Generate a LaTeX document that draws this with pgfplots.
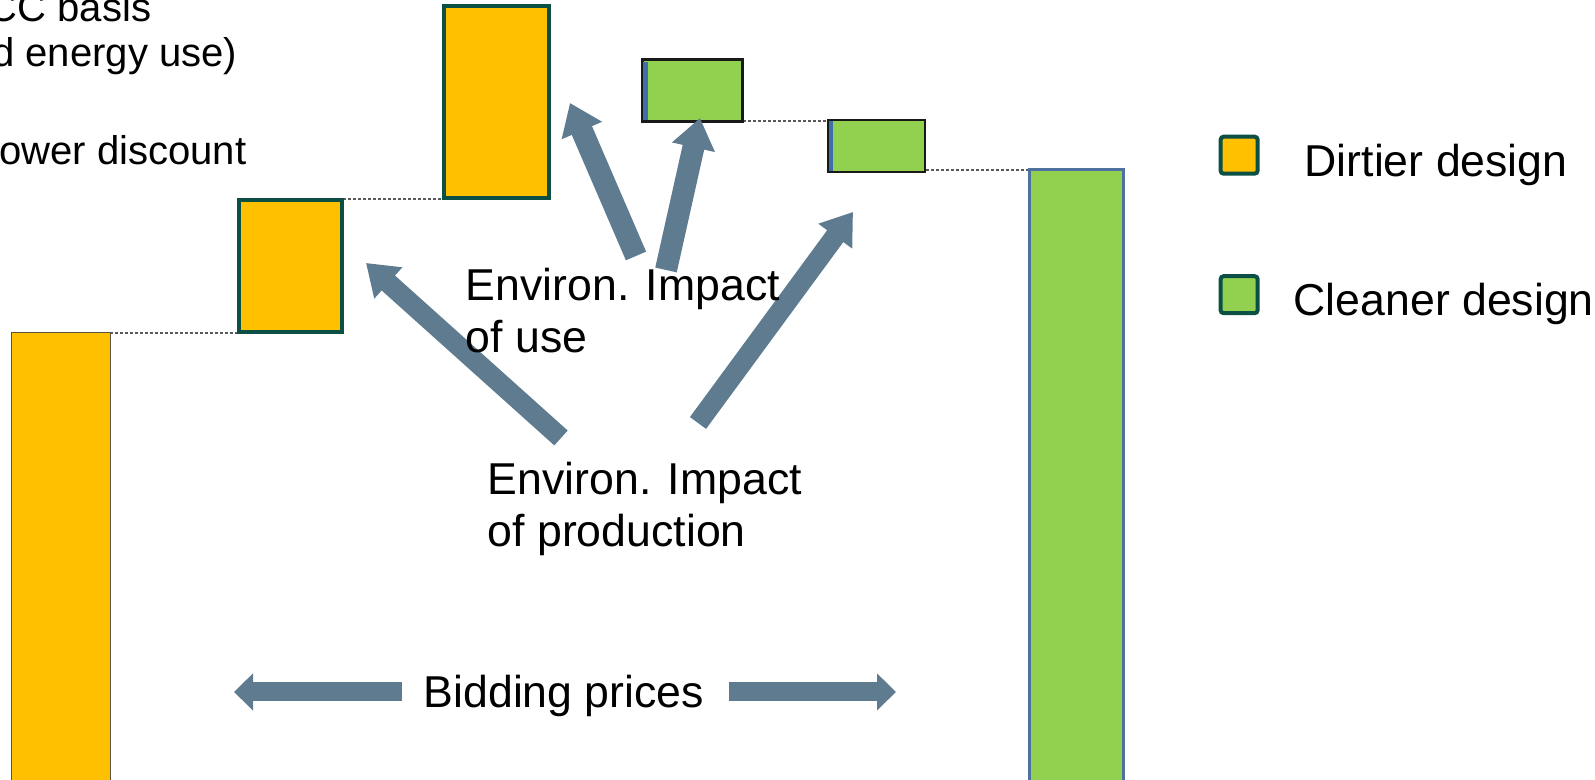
\documentclass[border=0pt]{standalone}
\usepackage{fontspec}
\setmainfont{Liberation Sans}
\usepackage{pgfplots}
\pgfplotsset{compat=1.18}
\usetikzlibrary{arrows.meta}

\definecolor{dirtyfill}{HTML}{FFC000}
\definecolor{cleanfill}{HTML}{92D050}
\definecolor{dgreen}{HTML}{0C4F45}
\definecolor{steel}{HTML}{4E72A0}
\definecolor{stripblue}{HTML}{3F6FA8}
\definecolor{arrowc}{HTML}{5E7B8F}

\newcommand{\bigfont}{\fontsize{12.7}{15}\selectfont}
\newcommand{\smallfont}{\fontsize{11.4}{13.5}\selectfont}

\begin{document}
\begin{tikzpicture}
\begin{axis}[
    scale only axis,
    width=159.5mm, height=78mm,
    xmin=0, xmax=1595, ymin=0, ymax=780,
    hide axis,
    clip=true,
    legend image code/.code={\draw[#1] (0mm,0.2mm) rectangle (3.7mm,3.9mm);},
    legend cell align=left,
    legend style={at={(0.7636,0.8282)}, anchor=north west, draw=none, fill=none,
        inner sep=0pt, row sep=7.4mm, column sep=3.4mm,
        nodes={inner sep=0pt, text height=3.9mm, text depth=1mm, font=\bigfont}},
]
% legend
\addlegendimage{fill=dirtyfill, draw=dgreen, line width=0.4mm, rounded corners=0.3mm}
\addlegendentry{\raisebox{1.4mm}{\hspace*{1.1mm}Dirtier design}}
\addlegendimage{fill=cleanfill, draw=dgreen, line width=0.4mm, rounded corners=0.3mm}
\addlegendentry{\raisebox{1.4mm}{Cleaner design}}

% connectors
\addplot[forget plot, gray!70!black, line width=0.12mm, dash pattern=on 0.3mm off 0.2mm] coordinates {(110,447) (238,447)};
\addplot[forget plot, gray!70!black, line width=0.12mm, dash pattern=on 0.3mm off 0.2mm] coordinates {(343,581) (443,581)};
\addplot[forget plot, gray!70!black, line width=0.12mm, dash pattern=on 0.3mm off 0.2mm] coordinates {(743,659) (827,659)};
\addplot[forget plot, gray!70!black, line width=0.12mm, dash pattern=on 0.3mm off 0.2mm] coordinates {(926,610) (1028,610)};

% bars (dirtier)
\addplot[forget plot, fill=dirtyfill, draw=black!75!yellow, line width=0.1mm] coordinates {(12,-10) (110,-10) (110,447) (12,447)} --cycle;
\addplot[forget plot, fill=dirtyfill, draw=dgreen, line width=0.4mm] coordinates {(239,448) (342,448) (342,580) (239,580)} --cycle;
\addplot[forget plot, fill=dirtyfill, draw=dgreen, line width=0.4mm] coordinates {(444,582) (549,582) (549,774) (444,774)} --cycle;

% bars (cleaner)
\addplot[forget plot, fill=cleanfill, draw=black!90, line width=0.3mm] coordinates {(642,658) (742,658) (742,720) (642,720)} --cycle;
\addplot[forget plot, fill=stripblue, draw=none] coordinates {(643,660) (648,660) (648,718) (643,718)} --cycle;
\addplot[forget plot, fill=cleanfill, draw=black!90, line width=0.2mm] coordinates {(828,608) (925,608) (925,660) (828,660)} --cycle;
\addplot[forget plot, fill=stripblue, draw=none] coordinates {(829,609) (833,609) (833,659) (829,659)} --cycle;
\addplot[forget plot, fill=cleanfill, draw=steel, line width=0.3mm] coordinates {(1029,-10) (1123,-10) (1123,610) (1029,610)} --cycle;

% arrows
\addplot[forget plot, arrowc, line width=2mm, -{Triangle[width=4mm,length=3mm]}] coordinates {(561,342) (366,517)};
\addplot[forget plot, arrowc, line width=2.2mm, -{Triangle[width=4.2mm,length=3mm]}] coordinates {(636,524) (570,677)};
\addplot[forget plot, arrowc, line width=2.2mm, -{Triangle[width=4.2mm,length=3mm]}] coordinates {(666,510) (700,662)};
\addplot[forget plot, arrowc, line width=2mm, -{Triangle[width=4mm,length=3mm]}] coordinates {(698,357) (853,568)};
\addplot[forget plot, arrowc, line width=1.9mm, -{Triangle[width=3.6mm,length=1.9mm]}] coordinates {(402,88) (234,88)};
\addplot[forget plot, arrowc, line width=1.9mm, -{Triangle[width=3.6mm,length=1.9mm]}] coordinates {(729,88) (896,88)};

% text
\node[anchor=base west, inner sep=0pt, font=\bigfont] at (465,479) {Environ. Impact};
\node[anchor=base west, inner sep=0pt, font=\bigfont] at (465,427) {of use};
\node[anchor=base west, inner sep=0pt, font=\bigfont] at (487,285) {Environ. Impact};
\node[anchor=base west, inner sep=0pt, font=\bigfont] at (487,233) {of production};
\node[anchor=base west, inner sep=0pt, font=\bigfont] at (423,72) {Bidding prices};
\node[anchor=base east, inner sep=0pt, font=\smallfont] at (152,758) {CC basis};
\node[anchor=base east, inner sep=0pt, font=\smallfont] at (238,713) {d energy use)};
\node[anchor=base east, inner sep=0pt, font=\smallfont] at (247,615) {ower discount};
\end{axis}
\pgfresetboundingbox
\path[use as bounding box] (current axis.south west) rectangle (current axis.north east);
\end{tikzpicture}
\end{document}
